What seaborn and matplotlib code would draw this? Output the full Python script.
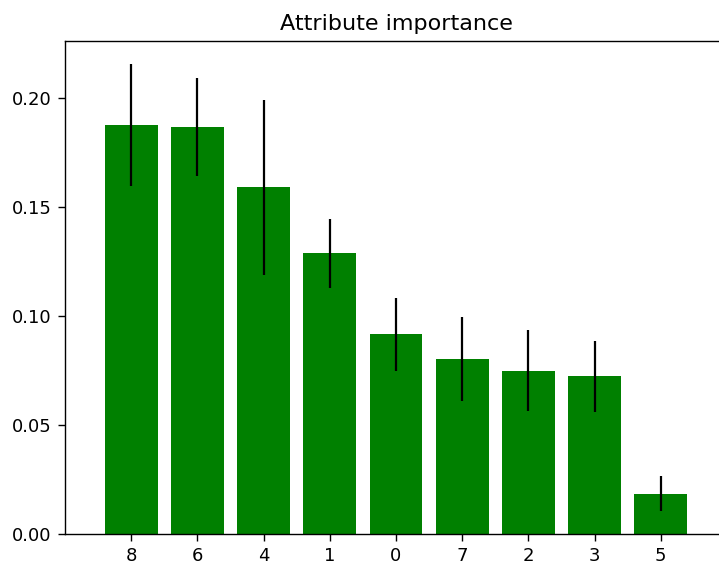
import matplotlib
matplotlib.use("Agg")
import matplotlib.pyplot as plt
import seaborn as sns
import pandas as pd

# Feature indices ordered by importance
features = ["8", "6", "4", "1", "0", "7", "2", "3", "5"]
importance = [0.1877, 0.1867, 0.1591, 0.1288, 0.0917, 0.0803, 0.0750, 0.0724, 0.0184]
importance_std = [0.0282, 0.0226, 0.0403, 0.0160, 0.0167, 0.0192, 0.0186, 0.0162, 0.0080]

df = pd.DataFrame({"feature": features, "importance": importance})

fig = plt.figure(figsize=(7.19, 5.68), dpi=100)
ax = fig.add_axes([0.0904, 0.0599, 0.9207, 0.868])

sns.barplot(data=df, x="feature", y="importance", order=features,
            color="green", saturation=1, width=0.8, linewidth=0, ax=ax)
ax.errorbar(range(len(features)), importance, yerr=importance_std,
            fmt="none", ecolor="black", elinewidth=1.6)

ax.set_title("Attribute importance", fontsize=16, pad=8)
ax.set_xlim(-1, len(features))
ax.set_ylim(0, 0.2263)
ax.set_yticks([0.00, 0.05, 0.10, 0.15, 0.20])
ax.set_yticklabels(["0.00", "0.05", "0.10", "0.15", "0.20"])
ax.set_xlabel("")
ax.set_ylabel("")
ax.tick_params(labelsize=13, length=5, width=1.0, pad=4.5)
for spine in ax.spines.values():
    spine.set_linewidth(1.0)

fig.savefig("out.png", dpi=100)
